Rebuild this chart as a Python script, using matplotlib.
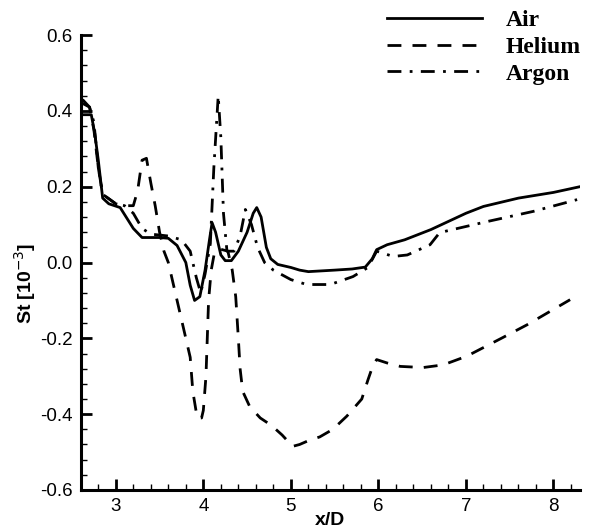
import matplotlib
matplotlib.use("Agg")
import matplotlib.pyplot as plt
from matplotlib.ticker import MultipleLocator

# x/D positions and Stanton number [10^-3]
air_x = [2.62, 2.72, 2.76, 2.80, 2.85, 2.92, 3.05, 3.20, 3.30, 3.50, 3.60, 3.70, 3.80, 3.85,
         3.90, 3.96, 4.02, 4.07, 4.10, 4.14, 4.20, 4.25, 4.32, 4.40, 4.50, 4.57, 4.61, 4.66,
         4.72, 4.77, 4.85, 5.00, 5.10, 5.20, 5.35, 5.50, 5.70, 5.85, 5.93, 5.98, 6.10, 6.30,
         6.60, 7.00, 7.20, 7.60, 8.00, 8.30]
air_st = [0.39, 0.39, 0.34, 0.27, 0.17, 0.155, 0.145, 0.09, 0.066, 0.066, 0.064, 0.045, 0.0, -0.06,
          -0.10, -0.09, -0.02, 0.06, 0.105, 0.08, 0.02, 0.005, 0.005, 0.03, 0.08, 0.13, 0.145, 0.12,
          0.04, 0.01, -0.005, -0.013, -0.02, -0.024, -0.022, -0.02, -0.017, -0.012, 0.01, 0.034, 0.047, 0.06,
          0.087, 0.13, 0.148, 0.17, 0.185, 0.20]

helium_x = [2.62, 2.70, 2.75, 2.80, 2.85, 3.00, 3.10, 3.20, 3.25, 3.30, 3.35, 3.40, 3.45, 3.50,
            3.55, 3.60, 3.70, 3.80, 3.85, 3.88, 3.93, 3.98, 4.00, 4.03, 4.06, 4.09, 4.13, 4.20,
            4.28, 4.33, 4.37, 4.40, 4.42, 4.45, 4.53, 4.65, 4.78, 4.90, 5.02, 5.10, 5.20, 5.33,
            5.48, 5.64, 5.81, 5.88, 5.94, 5.98, 6.10, 6.25, 6.51, 6.74, 7.01, 7.42, 7.70, 7.93, 8.19]
helium_st = [0.42, 0.41, 0.35, 0.25, 0.18, 0.155, 0.15, 0.15, 0.19, 0.27, 0.275, 0.21, 0.15, 0.08,
             0.03, 0.0, -0.10, -0.20, -0.25, -0.34, -0.41, -0.41, -0.39, -0.30, -0.10, -0.02, 0.03, 0.035,
             0.03, -0.02, -0.09, -0.20, -0.28, -0.34, -0.38, -0.41, -0.43, -0.455, -0.485, -0.48, -0.47, -0.46,
             -0.44, -0.405, -0.36, -0.31, -0.27, -0.256, -0.265, -0.274, -0.277, -0.27, -0.247, -0.198, -0.164, -0.133, -0.098]

argon_x = [2.62, 2.70, 2.75, 2.80, 2.85, 3.00, 3.10, 3.20, 3.30, 3.40, 3.60, 3.75, 3.85, 3.92,
           3.97, 4.02, 4.08, 4.12, 4.17, 4.20, 4.23, 4.27, 4.35, 4.42, 4.48, 4.55, 4.62, 4.70,
           4.80, 5.00, 5.18, 5.45, 5.71, 5.88, 5.98, 6.17, 6.33, 6.59, 6.70, 7.24, 7.77, 8.27]
argon_st = [0.43, 0.41, 0.37, 0.25, 0.18, 0.155, 0.15, 0.13, 0.09, 0.075, 0.07, 0.06, 0.03, -0.04,
            -0.08, -0.03, 0.05, 0.25, 0.44, 0.33, 0.13, 0.03, 0.03, 0.07, 0.14, 0.10, 0.04, 0.0,
            -0.02, -0.045, -0.058, -0.058, -0.037, -0.013, 0.03, 0.016, 0.02, 0.047, 0.079, 0.108, 0.135, 0.166]

fig = plt.figure(figsize=(5.94, 5.32), dpi=100)
ax = fig.add_axes([0.136, 0.079, 0.840, 0.855])

ax.plot(air_x, air_st, color="black", lw=2.0, label="Air")
ax.plot(helium_x, helium_st, color="black", lw=2.0, dashes=(5, 4), label="Helium")
ax.plot(argon_x, argon_st, color="black", lw=2.0, dashes=(5, 3, 1, 3), label="Argon")

ax.set_xlim(2.6, 8.3)
ax.set_ylim(-0.6, 0.6)
ax.xaxis.set_major_locator(MultipleLocator(1))
ax.xaxis.set_minor_locator(MultipleLocator(0.2))
ax.yaxis.set_minor_locator(MultipleLocator(0.04))
ax.set_yticks([-0.6, -0.4, -0.2, 0.0, 0.2, 0.4, 0.6])
ax.set_yticklabels(["-0.6", "-0.4", "-0.2", "0.0", "0.2", "0.4", "0.6"])

for s in ["top", "right"]:
    ax.spines[s].set_visible(False)
for s in ["left", "bottom"]:
    ax.spines[s].set_linewidth(2.2)

ax.tick_params(which="major", direction="in", length=8, width=2, labelsize=13.5, pad=6)
ax.tick_params(which="minor", direction="in", length=4, width=1)
for lab in ax.get_xticklabels() + ax.get_yticklabels():
    lab.set_fontfamily("Liberation Sans")

ax.set_xlabel("x/D", fontsize=14, fontweight="bold", family="Liberation Sans")
ax.set_ylabel("St [10$^{-3}$]", fontsize=14, fontweight="bold", family="Liberation Sans")
ax.xaxis.set_label_coords(0.5, -0.048)
ax.yaxis.set_label_coords(-0.085, 0.455)

leg = fig.legend(loc="upper right", bbox_to_anchor=(1.013, 1.022), frameon=False, handlelength=4.0,
                 labelspacing=0.22, handletextpad=1.0,
                 prop={"family": "Liberation Serif", "weight": "bold", "size": 17})

fig.savefig("out.png", dpi=100)
